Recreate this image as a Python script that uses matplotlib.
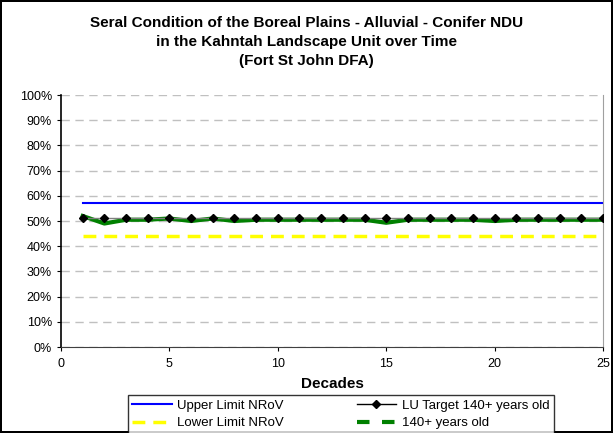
import matplotlib.pyplot as plt
from matplotlib.lines import Line2D
from matplotlib.ticker import PercentFormatter

plt.rcParams['font.family'] = ['Liberation Sans', 'DejaVu Sans']

# data
decades = list(range(1, 26))
upper_limit = [57.0] * 25
lower_limit = [44.0] * 25
lu_target = [51.0] * 25
old_140 = [52.0, 49.0, 50.5, 50.5, 51.0, 50.0, 51.0, 50.0, 50.5, 50.5,
           50.5, 50.5, 50.5, 50.5, 49.3, 50.5, 50.5, 50.5, 50.5, 50.0,
           50.5, 50.5, 50.5, 50.5, 50.5]

fig = plt.figure(figsize=(6.13, 4.33), dpi=100)
fig.patch.set_edgecolor('black')
fig.patch.set_linewidth(1.5)
ax = fig.add_axes([0.0995, 0.1986, 0.8842, 0.582])

l_up, = ax.plot(decades, upper_limit, color='#0000ff', lw=1.5, label='Upper Limit NRoV')
l_lo, = ax.plot(decades, lower_limit, color='#ffff00', lw=2.5, ls=(0, (3.7, 2.3)),
                label='Lower Limit NRoV')
ax.plot(decades, old_140, color='#008000', lw=3, ls='-', zorder=3)
l_lu, = ax.plot(decades, lu_target, color='#808080', lw=1, marker='D', ms=4.5,
                mfc='black', mec='black', zorder=4)

ax.set_xlim(0, 25)
ax.set_ylim(0, 100)
ax.set_xticks(range(0, 26, 5))
ax.set_yticks(range(0, 101, 10))
ax.yaxis.set_major_formatter(PercentFormatter(decimals=0))
ax.grid(axis='y', color='#c0c0c0', ls=(0, (6, 4)), lw=1)
ax.tick_params(labelsize=9, length=3, direction='out')
ax.tick_params(axis='x', pad=5)
ax.spines['top'].set_visible(False)
ax.spines['right'].set_color('#a0a0a0')
ax.spines['left'].set_linewidth(1.2)
ax.spines['bottom'].set_color('#404040')
ax.set_xlabel('Decades', fontsize=11, fontweight='bold', labelpad=5)

fig.suptitle('Seral Condition of the Boreal Plains - Alluvial - Conifer NDU\n'
             'in the Kahntah Landscape Unit over Time\n(Fort St John DFA)',
             fontsize=11, fontweight='bold', y=0.962, linespacing=1.45)

# legend handles styled as in the reference key
h_lu = Line2D([], [], color='black', lw=1, marker='D', ms=4.5, mfc='black')
h_old = Line2D([], [], color='#008000', lw=3, ls=(0, (3, 3)))
leg = fig.legend([l_up, l_lo, h_lu, h_old],
                 ['Upper Limit NRoV', 'Lower Limit NRoV',
                  'LU Target 140+ years old', '140+ years old'],
                 ncol=2, loc='lower center', bbox_to_anchor=(0.556, -0.017),
                 fontsize=9.5, frameon=True, fancybox=False, edgecolor='black',
                 handlelength=3, handletextpad=0.4, columnspacing=5.5,
                 borderpad=0.35, labelspacing=0.4)
leg.get_frame().set_linewidth(1)

plt.savefig('out.png', dpi=100)
